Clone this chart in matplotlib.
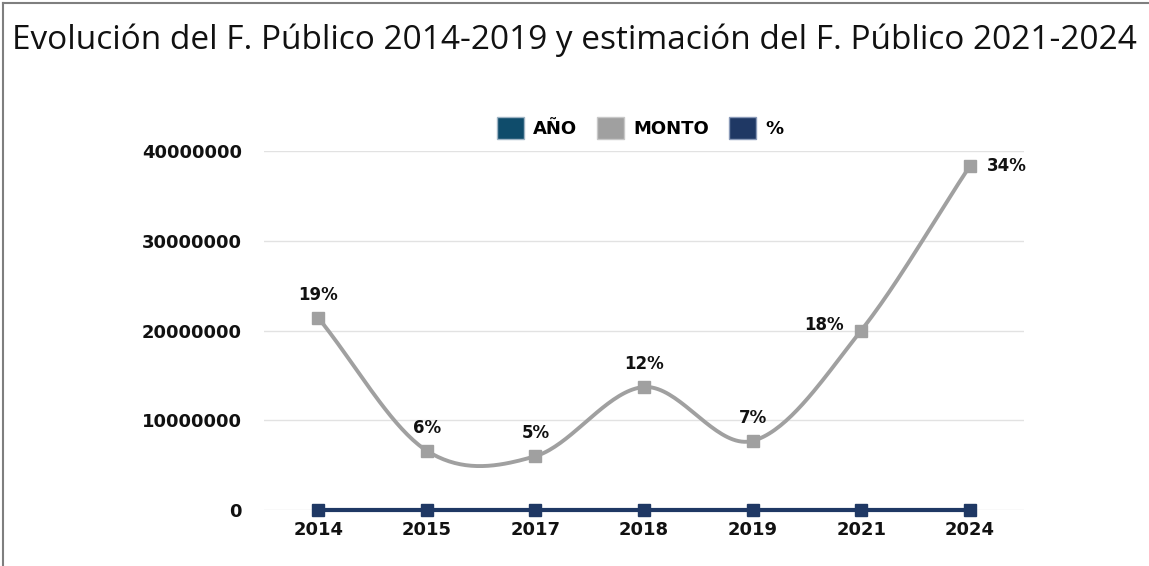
import numpy as np
import matplotlib.pyplot as plt
from matplotlib.lines import Line2D
from matplotlib.patches import Patch

anios = ['2014', '2015', '2017', '2018', '2019', '2021', '2024']
monto = [21400000, 6600000, 6000000, 13700000, 7700000, 20000000, 38300000]
porcentaje = [0, 0, 0, 0, 0, 0, 0]
etiquetas = ['19%', '6%', '5%', '12%', '7%', '18%', '34%']

plt.rcParams['font.family'] = ['DejaVu Sans']

gris = '#a0a0a0'
azul = '#1f3864'
azul_anio = '#0f4c6b'


def suavizar(x, y, n=40):
    # curva tipo Catmull-Rom, como el "suavizado" de Excel
    x = np.asarray(x, float)
    y = np.asarray(y, float)
    px = np.concatenate([[2 * x[0] - x[1]], x, [2 * x[-1] - x[-2]]])
    py = np.concatenate([[2 * y[0] - y[1]], y, [2 * y[-1] - y[-2]]])
    xs, ys = [], []
    t = np.linspace(0, 1, n)
    for i in range(1, len(px) - 2):
        for p, out in ((px, xs), (py, ys)):
            p0, p1, p2, p3 = p[i - 1], p[i], p[i + 1], p[i + 2]
            out.extend(0.5 * ((2 * p1) + (-p0 + p2) * t
                              + (2 * p0 - 5 * p1 + 4 * p2 - p3) * t ** 2
                              + (-p0 + 3 * p1 - 3 * p2 + p3) * t ** 3))
    return np.array(xs), np.array(ys)


fig = plt.figure(figsize=(11.49, 5.66), dpi=100)
ax = fig.add_axes([264 / 1149, 56 / 566, 760 / 1149, 359 / 566])

x = np.arange(len(anios))
sx, sy = suavizar(x, monto)
ax.plot(sx, sy, color=gris, lw=2.8, zorder=3, clip_on=False)
ax.plot(x, monto, ls='none', marker='s', ms=8, color=gris, zorder=4, clip_on=False)
ax.plot(x, porcentaje, color=azul, lw=3, marker='s', ms=9, zorder=5, clip_on=False)

offs = [(0, 10), (0, 10), (0, 10), (0, 10), (0, 10), (-27, 4), (27, 0)]
for xi, yi, lab, (dx, dy) in zip(x, monto, etiquetas, offs):
    ax.annotate(lab, (xi, yi), xytext=(dx, dy), textcoords='offset points',
                ha='center', va='bottom' if dy > 4 else 'center',
                fontsize=12, fontweight='bold', color='#111111')

ax.set_xlim(-0.5, len(anios) - 0.5)
ax.set_ylim(0, 40000000)
ax.set_yticks([0, 10000000, 20000000, 30000000, 40000000])
ax.set_yticklabels(['0', '10000000', '20000000', '30000000', '40000000'])
ax.set_xticks(x)
ax.set_xticklabels(anios)
ax.grid(axis='y', color='#e2e2e2', lw=1)
ax.set_axisbelow(True)
for s in ax.spines.values():
    s.set_visible(False)
ax.tick_params(length=0, labelsize=13, colors='#111111', pad=16)
ax.tick_params(axis='x', pad=8)
for t in ax.get_xticklabels() + ax.get_yticklabels():
    t.set_fontweight('bold')

handles = [Patch(facecolor=azul_anio, edgecolor='#9fb4c4', label='AÑO'),
           Patch(facecolor=gris, edgecolor='#c8c8c8', label='MONTO'),
           Patch(facecolor=azul, edgecolor='#8a9ab8', label='%')]
leg = fig.legend(handles=handles, loc='center', bbox_to_anchor=(640 / 1149, 1 - 128 / 566),
                 ncol=3, frameon=False, handlelength=1.5, handleheight=1.5,
                 handletextpad=0.5, columnspacing=1.1, prop={'size': 13, 'weight': 'bold'})

fig.text(12 / 1149, 1 - 40 / 566,
         'Evolución del F. Público 2014-2019 y estimación del F. Público 2021-2024',
         fontsize=24, va='center', ha='left', color='#111111',
         family=['Open Sans', 'DejaVu Sans'])

# marco del grafico
fig.add_artist(Line2D([3 / 1149, 1], [1 - 3 / 566, 1 - 3 / 566], color='#7f7f7f', lw=1.5))
fig.add_artist(Line2D([3 / 1149, 3 / 1149], [0, 1 - 3 / 566], color='#7f7f7f', lw=1.5))

fig.savefig('out.png', dpi=100)
